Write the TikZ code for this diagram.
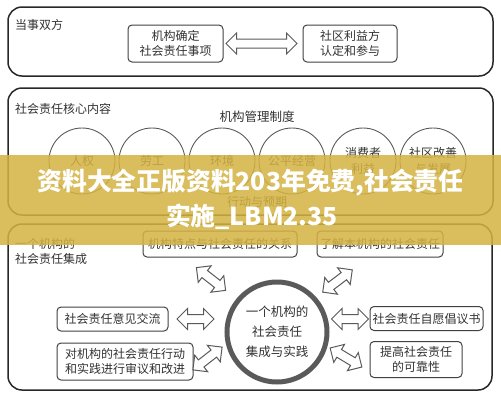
\documentclass[tikz,border=0pt]{standalone}
\usepackage{fontspec}
\setmainfont{Noto Sans CJK SC}
\usetikzlibrary{shapes.arrows}
\definecolor{frameline}{RGB}{40,40,40}
\definecolor{boxline}{RGB}{65,65,65}
\definecolor{ringline}{RGB}{90,90,90}
\definecolor{txt}{RGB}{50,50,50}
\definecolor{wmyellow}{RGB}{212,178,66}
\tikzset{
  frame/.style={draw=frameline, line width=1.5pt, rounded corners=14pt},
  item/.style={draw=boxline, line width=1pt, rounded corners=4pt, align=center,
    text=txt, font=\fontsize{12}{15}\selectfont, inner sep=0pt},
  topic/.style={circle, draw=ringline, line width=0.9pt, minimum size=66pt,
    inner sep=0pt, align=center, text=txt, font=\fontsize{12}{16}\selectfont},
  caption/.style={text=txt, align=left, anchor=west, inner sep=0pt,
    font=\fontsize{12}{15}\selectfont},
  dblarrow/.style={double arrow, draw=ringline, fill=white, line width=1pt,
    inner sep=4pt, double arrow head extend=6pt, minimum height=37pt}
}
\begin{document}
\begin{tikzpicture}[x=1pt, y=-1pt]
  \useasboundingbox (0, 0) rectangle (501, 400);
  % parties
  \draw [frame] (8, 7) rectangle (493, 76);
  \node [caption] (partiesLbl) at (15, 25) {当事双方};
  \node [item, minimum width=95pt, minimum height=37pt] (orgScope) at (175.5, 43.5)
    {机构确定\\社会责任事项};
  \node [item, minimum width=94pt, minimum height=37pt] (stakeholders) at (350, 43.5)
    {社区利益方\\认定和参与};
  \node [dblarrow, minimum height=71pt] (partiesArr) at (261.5, 43.5) {};
  % core subjects
  \draw [frame] (8, 88) rectangle (493, 215);
  \node [caption] (coreLbl) at (15, 109) {社会责任核心内容};
  \node [text=txt, font=\fontsize{12.5}{15}\selectfont] (govern) at (257, 117) {机构管理制度};
  \node [topic] (rights) at (82, 161) {人权};
  \node [topic] (labour) at (152, 161) {劳工};
  \node [topic] (environ) at (222, 161) {环境};
  \node [topic] (fair) at (292, 161) {公平经营};
  \node [topic] (consumer) at (363, 161) {消费者\\利益};
  \node [topic] (community) at (433, 161) {社区改善\\与发展};
  \node [text=txt, font=\fontsize{12}{15}\selectfont] (expect) at (257, 202) {行动与预期};
  % integration
  \draw [frame] (8, 224) rectangle (492, 390);
  \node [caption] (integLbl) at (15, 251) {一个机构的\\社会责任集成};
  \node [item, minimum width=154pt, minimum height=26pt] (relation) at (220, 244)
    {机构特点与社会责任的关系};
  \node [item, minimum width=126pt, minimum height=26pt] (understand) at (380, 244)
    {了解本机构的社会责任};
  \node [circle, draw=ringline, line width=5pt, minimum size=100pt, align=center,
    text=txt, font=\fontsize{12.5}{20}\selectfont] (core) at (277, 332)
    {一个机构的\\社会责任\\集成与实践};
  \node [item, minimum width=111pt, minimum height=24pt] (exchange) at (112.5, 319)
    {社会责任意见交流};
  \node [item, minimum width=136pt, minimum height=37pt] (review) at (125, 361.5)
    {对机构的社会责任行动\\和实践进行审议和改进};
  \node [item, minimum width=113pt, minimum height=24pt] (initiative) at (426.5, 318.5)
    {社会责任自愿倡议书};
  \node [item, minimum width=92pt, minimum height=36pt] (credible) at (416, 359.5)
    {提高社会责任\\的可靠性};
  \node [dblarrow, rotate=-38] (arrRelation) at (211, 279) {};
  \node [dblarrow] (arrExchange) at (195.5, 319) {};
  \node [dblarrow, rotate=38] (arrReview) at (207.5, 358.5) {};
  \node [dblarrow, rotate=37] (arrUnderstand) at (337.5, 281) {};
  \node [dblarrow] (arrInitiative) at (350, 319) {};
  \node [dblarrow, rotate=-31] (arrCredible) at (346, 357.5) {};
  % banner
  \fill [wmyellow, opacity=0.86] (0, 155) rectangle (501, 245);
  \node [text=white, font=\fontsize{24.8}{28}\bfseries] (bannerA) at (250.5, 183)
    {资料大全正版资料203年免费,社会责任};
  \node [text=white, font=\fontsize{24.8}{28}\bfseries] (bannerB) at (252, 217)
    {实施\_LBM2.35};
\end{tikzpicture}
\end{document}
